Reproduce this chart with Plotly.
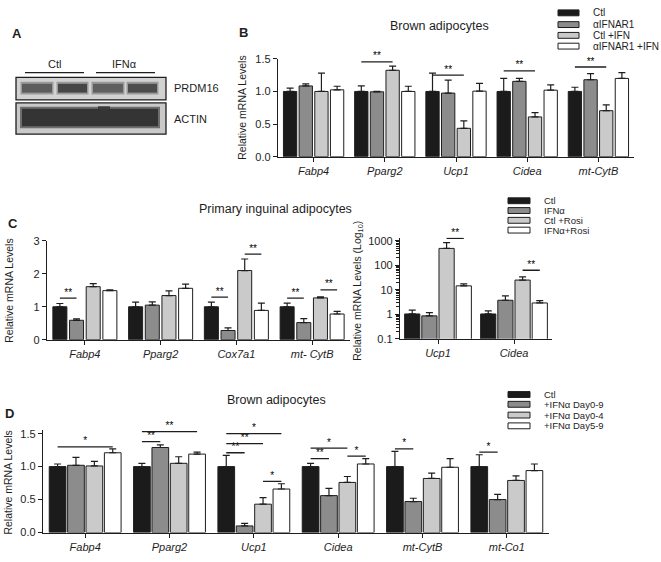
import plotly.graph_objects as go

W, H = 661, 562
FONT = "Liberation Sans, Arial, Helvetica, sans-serif"
INK = "#1e1e1e"
FILLS = ["#1b1b1b", "#8c8c8c", "#cacaca", "#ffffff"]

# ---------------- Panel B data ----------------
B_categories = ["Fabp4", "Pparg2", "Ucp1", "Cidea", "mt-CytB"]
B_series = ["Ctl", "αIFNAR1", "Ctl +IFN", "αIFNAR1 +IFN"]
B_ctl = [1.00, 1.00, 1.00, 1.00, 1.00]
B_ctl_err = [0.05, 0.085, 0.28, 0.20, 0.065]
B_ab = [1.085, 0.995, 0.975, 1.155, 1.18]
B_ab_err = [0.03, 0.005, 0.20, 0.045, 0.095]
B_ctl_ifn = [1.00, 1.325, 0.435, 0.61, 0.705]
B_ctl_ifn_err = [0.28, 0.065, 0.115, 0.065, 0.09]
B_ab_ifn = [1.025, 1.00, 1.005, 1.02, 1.20]
B_ab_ifn_err = [0.055, 0.08, 0.12, 0.08, 0.09]
# (category, bar from, bar to, height, label)
B_sig = [(1, 0, 2, 1.455, "**"), (2, 0, 2, 1.25, "**"),
         (3, 0, 2, 1.315, "**"), (4, 0, 2, 1.375, "**")]

# ---------------- Panel C (left) data ----------------
C_categories = ["Fabp4", "Pparg2", "Cox7a1", "mt- CytB"]
C_series = ["Ctl", "IFNα", "Ctl +Rosi", "IFNα+Rosi"]
C_ctl = [1.00, 1.00, 1.00, 1.00]
C_ctl_err = [0.10, 0.14, 0.14, 0.11]
C_ifn = [0.59, 1.05, 0.28, 0.52]
C_ifn_err = [0.04, 0.10, 0.08, 0.12]
C_rosi = [1.61, 1.34, 2.10, 1.27]
C_rosi_err = [0.09, 0.14, 0.35, 0.03]
C_ifn_rosi = [1.49, 1.56, 0.89, 0.78]
C_ifn_rosi_err = [0.02, 0.13, 0.22, 0.08]
C_sig = [(0, 0, 1, 1.26, "**"), (2, 0, 1, 1.29, "**"), (2, 2, 3, 2.60, "**"),
         (3, 0, 1, 1.26, "**"), (3, 2, 3, 1.51, "**")]

# ---------------- Panel C (right, log) data ----------------
CL_categories = ["Ucp1", "Cidea"]
CL_ctl = [1.03, 1.03]
CL_ctl_err = [0.46, 0.34]
CL_ifn = [0.86, 3.74]
CL_ifn_err = [0.31, 1.86]
CL_rosi = [493, 25.0]
CL_rosi_err = [358, 9.0]
CL_ifn_rosi = [14.5, 2.9]
CL_ifn_rosi_err = [2.9, 0.7]
CL_sig = [(0, 2, 3, 1280, "**"), (1, 2, 3, 63, "**")]
CL_ticks = [0.1, 1, 10, 100, 1000]
CL_ticktext = ["0.1", "1", "10", "100", "1000"]

# ---------------- Panel D data ----------------
D_categories = ["Fabp4", "Pparg2", "Ucp1", "Cidea", "mt-CytB", "mt-Co1"]
D_series = ["Ctl", "+IFNα Day0-9", "+IFNα Day0-4", "+IFNα Day5-9"]
D_ctl = [1.00, 1.00, 1.00, 1.00, 1.00, 1.00]
D_ctl_err = [0.04, 0.05, 0.17, 0.05, 0.23, 0.18]
D_d09 = [1.02, 1.29, 0.10, 0.56, 0.47, 0.50]
D_d09_err = [0.12, 0.04, 0.04, 0.11, 0.05, 0.08]
D_d04 = [1.01, 1.05, 0.43, 0.76, 0.82, 0.79]
D_d04_err = [0.07, 0.10, 0.10, 0.09, 0.08, 0.07]
D_d59 = [1.21, 1.19, 0.66, 1.04, 0.99, 0.94]
D_d59_err = [0.06, 0.03, 0.08, 0.08, 0.13, 0.10]
D_sig = [(0, 0, 3, 1.30, "*"),
         (1, 0, 1, 1.38, "**"), (1, 0, 3, 1.53, "**"),
         (2, 0, 1, 1.21, "**"), (2, 0, 2, 1.35, "**"), (2, 0, 3, 1.50, "*"), (2, 2, 3, 0.775, "*"),
         (3, 0, 1, 1.12, "**"), (3, 0, 2, 1.28, "*"), (3, 2, 3, 1.16, "*"),
         (4, 0, 1, 1.27, "*"),
         (5, 0, 1, 1.22, "*")]


def px(x):
    return x / W


def py(y):
    return 1 - y / H


fig = go.Figure()


def add_bars(xa, ya, cats, vals_list, err_list, names, w, s):
    n = len(cats)
    for i, (vals, errs, name) in enumerate(zip(vals_list, err_list, names)):
        fig.add_trace(go.Bar(
            x=list(range(n)), y=vals, width=w, offset=(i - 1.5) * s - w / 2,
            marker=dict(color=FILLS[i], line=dict(color=INK, width=1)),
            error_y=dict(type="data", array=errs, arrayminus=[0] * n, symmetric=False,
                         color=INK, thickness=1.2, width=3.5),
            name=name, showlegend=False, xaxis=xa, yaxis=ya, hoverinfo="skip"))


def add_sig(xa, ya, sigs, s):
    for cat, i, j, yv, label in sigs:
        x0 = cat + (i - 1.5) * s
        x1 = cat + (j - 1.5) * s
        fig.add_trace(go.Scatter(x=[x0, x1], y=[yv, yv], mode="lines",
                                 line=dict(color=INK, width=1.3), showlegend=False,
                                 xaxis=xa, yaxis=ya, hoverinfo="skip"))
        fig.add_trace(go.Scatter(x=[(x0 + x1) / 2], y=[yv], mode="text", text=[label],
                                 textposition="top center", cliponaxis=False,
                                 textfont=dict(size=10, color="#000000", family=FONT),
                                 showlegend=False, xaxis=xa, yaxis=ya, hoverinfo="skip"))


# Panel B
sB = 0.22
add_bars("x", "y", B_categories, [B_ctl, B_ab, B_ctl_ifn, B_ab_ifn],
         [B_ctl_err, B_ab_err, B_ctl_ifn_err, B_ab_ifn_err], B_series, 0.187, sB)
add_sig("x", "y", B_sig, sB)

# Panel C left
sC = 0.22
add_bars("x2", "y2", C_categories, [C_ctl, C_ifn, C_rosi, C_ifn_rosi],
         [C_ctl_err, C_ifn_err, C_rosi_err, C_ifn_rosi_err], C_series, 0.185, sC)
add_sig("x2", "y2", C_sig, sC)

# Panel C right
sCL = 0.226
add_bars("x3", "y3", CL_categories, [CL_ctl, CL_ifn, CL_rosi, CL_ifn_rosi],
         [CL_ctl_err, CL_ifn_err, CL_rosi_err, CL_ifn_rosi_err], C_series, 0.2, sCL)
add_sig("x3", "y3", CL_sig, sCL)

# Panel D
sD = 0.218
add_bars("x4", "y4", D_categories, [D_ctl, D_d09, D_d04, D_d59],
         [D_ctl_err, D_d09_err, D_d04_err, D_d59_err], D_series, 0.198, sD)
add_sig("x4", "y4", D_sig, sD)

tickfont = dict(size=11, color=INK, family=FONT)


def xax(domain, cats, anchor):
    return dict(domain=[px(domain[0]), px(domain[1])], anchor=anchor,
                range=[-0.5, len(cats) - 0.5], tickmode="array",
                tickvals=list(range(len(cats))), ticktext=["<i>%s</i>" % c for c in cats],
                showline=True, linecolor=INK, linewidth=1.3, ticks="outside", ticklen=4,
                tickwidth=1.2, tickcolor=INK, tickfont=tickfont, showgrid=False,
                zeroline=False, fixedrange=True)


def yax(top, bottom, rng, tickvals, ticktext, anchor, log=False):
    d = dict(domain=[py(bottom), py(top)], anchor=anchor, range=rng, tickmode="array",
             tickvals=tickvals, ticktext=ticktext, showline=True, linecolor=INK,
             linewidth=1.3, ticks="outside", ticklen=4, tickwidth=1.2, tickcolor=INK,
             tickfont=tickfont, showgrid=False, zeroline=False, fixedrange=True)
    if log:
        d["type"] = "log"
        d["minor"] = dict(ticks="outside", ticklen=2.5, tickwidth=0.8, tickcolor=INK,
                          tickmode="array",
                          tickvals=[k * 10 ** e for e in range(-1, 3) for k in range(2, 10)],
                          showgrid=False)
    return d


lin15 = [0, 0.5, 1.0, 1.5]
lin15t = ["0.0", "0.5", "1.0", "1.5"]
Dtop = 538 - 1.55 * (538 - 437) / 1.5
CLtop = 340 - 4.13 * 25

fig.update_layout(
    width=W, height=H, margin=dict(l=0, r=0, t=0, b=0),
    paper_bgcolor="white", plot_bgcolor="rgba(0,0,0,0)",
    font=dict(family=FONT, color=INK), barmode="overlay", showlegend=False,
    xaxis=xax((278, 634), B_categories, "y"),
    yaxis=yax(54, 154, [0, 1.5], lin15, lin15t, "x"),
    xaxis2=xax((47, 350), C_categories, "y2"),
    yaxis2=yax(240, 341, [0, 3], [0, 1, 2, 3], ["0", "1", "2", "3"], "x2"),
    xaxis3=xax((400, 552), CL_categories, "y3"),
    yaxis3=yax(CLtop, 340, [-1, 3.13], CL_ticks, CL_ticktext, "x3", log=True),
    xaxis4=xax((43, 549), D_categories, "y4"),
    yaxis4=yax(Dtop, 538, [0, 1.55], lin15, lin15t, "x4"),
)

shapes = []
ann = []


def rect(x0, y0, x1, y1, fill, line=None, lw=1.0):
    shapes.append(dict(type="rect", xref="paper", yref="paper",
                       x0=px(x0), x1=px(x1), y0=py(y1), y1=py(y0), fillcolor=fill,
                       line=dict(color=line if line else "rgba(0,0,0,0)", width=lw if line else 0),
                       layer="above"))


def hline(x0, x1, y, lw=1.2):
    shapes.append(dict(type="line", xref="paper", yref="paper", x0=px(x0), x1=px(x1),
                       y0=py(y), y1=py(y), line=dict(color=INK, width=lw), layer="above"))


def text(x, y, s, size=11, xanchor="left", bold=False, angle=0):
    t = s
    if bold:
        t = "<b>%s</b>" % t
    ann.append(dict(x=px(x), y=py(y), xref="paper", yref="paper", text=t, showarrow=False,
                    xanchor=xanchor, yanchor="middle", textangle=angle,
                    font=dict(size=size, color=INK, family=FONT)))


# ----- Panel A: western blot (drawing) -----
text(17, 28, "A", 13, "center", bold=True)
text(55, 59, "Ctl", 11, "center")
text(125, 59, "IFNα", 11, "center")
hline(25, 84, 68)
hline(96, 155, 68)
rect(16, 73, 166, 96, "#d2d2d2", INK, 1.3)
for (x0, x1, c) in [(22, 52, "#5c5c5c"), (58, 87, "#464646"), (93, 123, "#606060"), (128, 157, "#4c4c4c")]:
    rect(x0 - 1.5, 77.5, x1 + 1.5, 90.5, "#9a9a9a")
    rect(x0, 79.5, x1, 88.5, c)
rect(16, 99, 166, 131, "#c9c9c9", INK, 1.3)
rect(20, 103, 160, 125, "#6e6e6e")
rect(22, 105, 158, 123, "#343434")
rect(98, 102.5, 110, 106, "#3a3a3a")
text(172, 84, "PRDM16", 11)
text(172, 115, "ACTIN", 11)

# ----- Panel B texts -----
text(243, 27, "B", 13, "center", bold=True)
text(439, 20, "Brown adipocytes", 12.5, "center")
text(242, 104, "Relative mRNA Levels", 10.5, "center", angle=-90)
for k, name in enumerate(B_series):
    yy = [7, 19, 30, 41][k]
    rect(558, yy - 3, 579, yy + 3, FILLS[k], INK, 1)
    text(591, yy, name, 10)

# ----- Panel C texts -----
text(13, 222, "C", 13, "center", bold=True)
text(275, 207, "Primary inguinal adipocytes", 12.5, "center")
text(9, 291, "Relative mRNA Levels", 10.5, "center", angle=-90)
text(358, 291, "Relative mRNA Levels (Log<sub>10</sub>)", 10.5, "center", angle=-90)
for k, name in enumerate(C_series):
    yy = [199, 209, 219, 229][k]
    rect(508, yy - 3, 530, yy + 3, FILLS[k], INK, 1)
    text(542, yy, name, 9.5)

# ----- Panel D texts -----
text(9, 416, "D", 13, "center", bold=True)
text(276, 403, "Brown adipocytes", 12.5, "center")
text(8, 487, "Relative mRNA Levels", 10.5, "center", angle=-90)
for k, name in enumerate(D_series):
    yy = [397, 407, 418, 429][k]
    rect(508, yy - 3, 530, yy + 3, FILLS[k], INK, 1)
    text(542, yy, name, 9.5)

fig.update_layout(shapes=shapes, annotations=ann)
fig.write_html("out.html", config={"displayModeBar": False},
               post_script="document.body.style.margin='0px';")
